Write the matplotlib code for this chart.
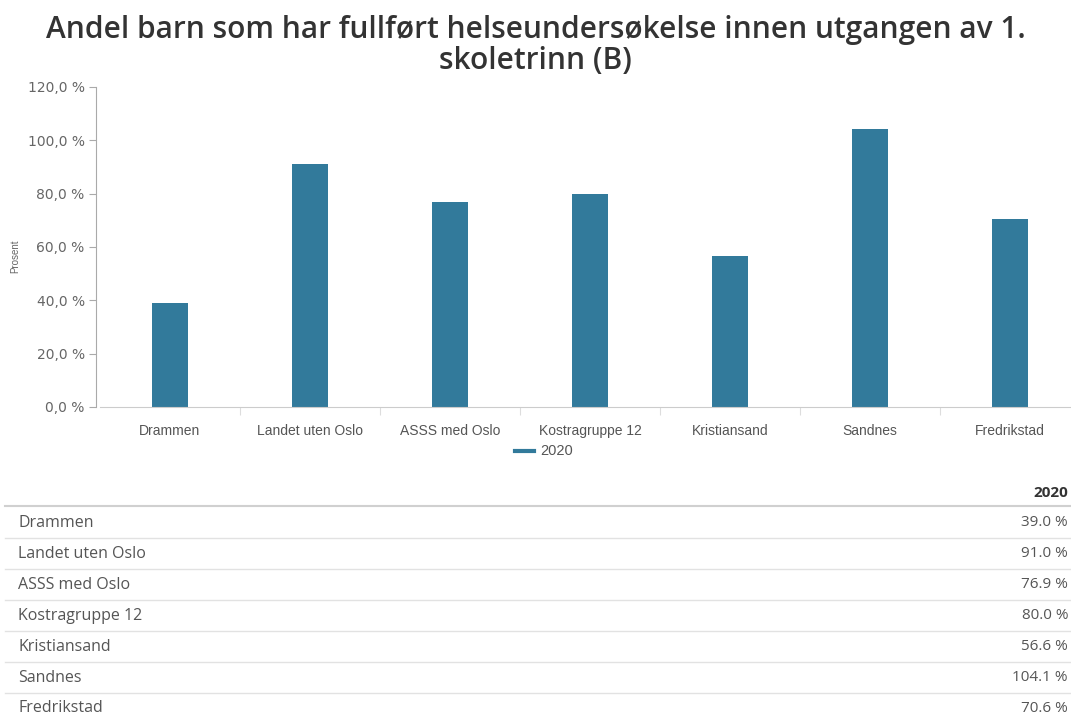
import matplotlib
matplotlib.use('Agg')
import matplotlib.pyplot as plt
from matplotlib.lines import Line2D
import numpy as np

regions = ['Drammen', 'Landet uten Oslo', 'ASSS med Oslo', 'Kostragruppe 12',
           'Kristiansand', 'Sandnes', 'Fredrikstad']
values_2020 = [39.0, 91.0, 76.9, 80.0, 56.6, 104.1, 70.6]
year = '2020'
yticks = [0, 20, 40, 60, 80, 100, 120]

bar_color = '#327a9b'
W, H = 1071, 720

fig = plt.figure(figsize=(W / 100, H / 100), dpi=100)
fig.patch.set_facecolor('white')

# title
fig.text(0.5, 1 - 30 / H, 'Andel barn som har fullført helseundersøkelse innen utgangen av 1.',
         ha='center', va='center', fontsize=21.5, family='Open Sans', weight='semibold', color='#333333')
fig.text(0.5, 1 - 61 / H, 'skoletrinn (B)',
         ha='center', va='center', fontsize=21.5, family='Open Sans', weight='semibold', color='#333333')

# chart
ax = fig.add_axes([100 / W, 1 - 407 / H, 980 / W, 320 / H])
x = np.arange(len(regions))
ax.bar(x, values_2020, width=0.26, color=bar_color, zorder=2)
ax.set_xlim(-0.5, len(regions) - 0.5)
ax.set_ylim(0, 120)
ax.set_yticks(yticks)
ax.set_yticklabels(['{:.1f} %'.format(v).replace('.', ',') for v in yticks],
                   fontsize=7.3, family='Liberation Sans')
ax.set_xticks(x)
ax.set_xticklabels(regions, fontsize=10, family='Liberation Sans')
ax.tick_params(axis='x', length=0, pad=12, labelcolor='#555555')
ax.tick_params(axis='y', length=5, width=0.8, color='#aaaaaa', pad=3, labelcolor='#666666')
ax.set_xticks(x[:-1] + 0.5, minor=True)
ax.tick_params(axis='x', which='minor', length=6, width=0.8, color='#dddddd', direction='out')
for s in ['top', 'right']:
    ax.spines[s].set_visible(False)
ax.spines['left'].set_color('#aaaaaa')
ax.spines['left'].set_position(('outward', 3))
ax.spines['bottom'].set_color('#cccccc')
fig.text(15 / W, 1 - 256 / H, 'Prosent', rotation=90, ha='center', va='center', fontsize=7,
         family='Liberation Sans', color='#666666')

# legend
fig.add_artist(Line2D([515 / W, 534 / W], [1 - 451 / H, 1 - 451 / H], color=bar_color, lw=3))
fig.text(540 / W, 1 - 451 / H, year, ha='left', va='center', fontsize=10.5,
         family='Liberation Sans', color='#555555')

# table
fig.text(1068 / W, 1 - 493 / H, year, ha='right', va='center', fontsize=11,
         family='Open Sans', weight='bold', color='#333333')
line_y = [506, 538, 569, 600, 631, 662, 693]
fig.add_artist(Line2D([5 / W, 1], [1 - 506 / H, 1 - 506 / H], color='#d0d0d0', lw=1.5))
for i, (name, val) in enumerate(zip(regions, values_2020)):
    ty = 523 + i * 30.9
    fig.text(18 / W, 1 - ty / H, name, ha='left', va='center', fontsize=11.5,
             family='Open Sans', color='#555555')
    fig.text(1068 / W, 1 - ty / H, '{:.1f} %'.format(val), ha='right', va='center', fontsize=11,
             family='Open Sans', color='#555555')
    if i > 0:
        yy = 1 - line_y[i] / H
        fig.add_artist(Line2D([5 / W, 1], [yy, yy], color='#e2e2e2', lw=1))

fig.savefig('out.png', dpi=100)
